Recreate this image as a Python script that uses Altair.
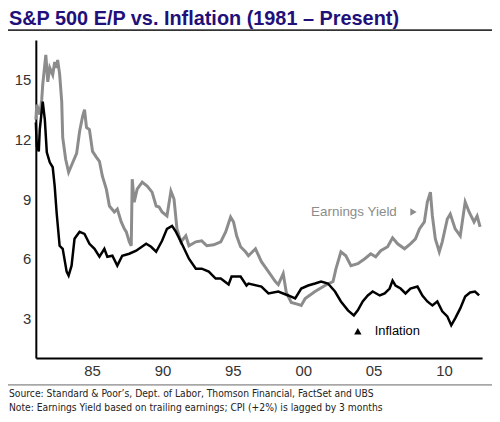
import altair as alt
import pandas as pd

# Earnings Yield (S&P 500 E/P, %)
ey_year = [1981.00, 1981.07, 1981.28, 1981.42, 1981.49, 1981.71, 1981.85, 1981.99, 1982.20, 1982.34,
           1982.48, 1982.55, 1982.69, 1982.84, 1982.91, 1983.12, 1983.33, 1983.54, 1983.90, 1984.11,
           1984.32, 1984.46, 1984.60, 1984.81, 1985.03, 1985.31, 1985.52, 1985.73, 1986.01, 1986.23,
           1986.58, 1986.79, 1987.07, 1987.29, 1987.43, 1987.64, 1987.78, 1987.85, 1987.99, 1988.20,
           1988.56, 1988.91, 1989.26, 1989.55, 1989.76, 1989.97, 1990.32, 1990.60, 1990.82, 1991.03,
           1991.31, 1991.66, 1991.88, 1992.37, 1992.79, 1993.15, 1993.64, 1994.14, 1994.49, 1994.84,
           1995.05, 1995.27, 1995.55, 1995.90, 1996.11, 1996.61, 1997.03, 1997.53, 1998.02, 1998.23,
           1998.58, 1998.80, 1999.15, 1999.64, 1999.86, 2000.14, 2000.84, 2001.55, 2002.12, 2002.33,
           2002.68, 2003.03, 2003.39, 2003.88, 2004.38, 2004.80, 2005.15, 2005.51, 2006.00, 2006.35,
           2006.71, 2007.20, 2007.62, 2007.98, 2008.26, 2008.61, 2008.82, 2009.04, 2009.18, 2009.39,
           2009.67, 2009.88, 2010.24, 2010.45, 2010.80, 2011.16, 2011.51, 2011.79, 2012.14, 2012.36,
           2012.57]
ey_value = [13.0, 13.75, 13.25, 14.0, 14.75, 16.25, 14.9, 15.6, 15.25, 15.9,
            15.6, 16.0, 15.3, 13.9, 12.1, 11.0, 10.35, 10.7, 11.3, 12.4,
            13.15, 13.5, 12.6, 12.5, 11.4, 11.1, 10.9, 10.15, 9.5, 8.65,
            8.35, 8.5, 7.85, 7.5, 7.35, 6.85, 6.65, 10.0, 8.85, 9.5,
            9.85, 9.65, 9.35, 8.65, 8.6, 8.35, 8.15, 9.4, 9.0, 7.5,
            6.85, 7.15, 6.65, 6.85, 6.9, 6.65, 6.7, 6.85, 7.35, 8.1,
            7.85, 7.15, 6.6, 6.35, 6.15, 6.5, 5.85, 5.35, 4.85, 4.7,
            5.25, 4.3, 3.8, 3.7, 3.65, 4.0, 4.35, 4.65, 4.85, 5.5,
            6.35, 6.15, 5.65, 5.75, 6.0, 6.25, 6.1, 6.4, 6.6, 7.05,
            6.75, 6.5, 6.75, 7.0, 7.5, 7.85, 8.85, 9.35, 8.15, 7.0,
            6.35, 6.85, 8.0, 8.25, 7.5, 7.15, 8.85, 8.35, 7.85, 8.15,
            7.6]

# Inflation (CPI +2%, lagged 3 months)
inf_year = [1981.00, 1981.07, 1981.21, 1981.28, 1981.49, 1981.64, 1981.78, 1981.99, 1982.20, 1982.34,
            1982.48, 1982.69, 1982.91, 1983.19, 1983.33, 1983.54, 1983.75, 1984.11, 1984.46, 1984.81,
            1985.17, 1985.52, 1985.87, 1986.08, 1986.44, 1986.79, 1987.14, 1987.64, 1988.13, 1988.84,
            1989.19, 1989.55, 1989.97, 1990.32, 1990.68, 1990.96, 1991.31, 1991.88, 1992.37, 1992.79,
            1993.29, 1993.78, 1994.14, 1994.70, 1994.91, 1995.55, 1995.97, 1996.11, 1997.03, 1997.53,
            1998.23, 1998.94, 1999.43, 1999.86, 2000.35, 2000.84, 2001.27, 2001.76, 2002.26, 2002.68,
            2003.18, 2003.60, 2003.88, 2004.23, 2004.59, 2004.94, 2005.44, 2005.79, 2006.14, 2006.35,
            2006.56, 2006.92, 2007.27, 2007.62, 2008.12, 2008.47, 2008.82, 2009.18, 2009.53, 2009.88,
            2010.24, 2010.52, 2010.80, 2011.16, 2011.51, 2011.86, 2012.21, 2012.50]
inf_value = [12.85, 11.65, 11.4, 12.5, 13.9, 13.0, 11.35, 10.85, 10.6, 9.65,
             8.3, 6.65, 6.5, 5.35, 5.15, 5.65, 7.0, 7.35, 7.25, 6.75,
             6.5, 6.1, 6.5, 6.1, 6.15, 5.65, 6.15, 6.25, 6.4, 6.75,
             6.6, 6.35, 6.9, 7.5, 7.65, 7.35, 6.85, 6.0, 5.5, 5.5,
             5.35, 5.0, 5.0, 4.7, 5.1, 5.1, 4.65, 4.75, 4.6, 4.25,
             4.35, 4.15, 4.0, 4.5, 4.65, 4.75, 4.85, 4.75, 4.35, 3.85,
             3.4, 3.15, 3.4, 3.85, 4.15, 4.35, 4.15, 4.25, 4.5, 4.9,
             4.65, 4.5, 4.25, 4.5, 4.6, 4.15, 3.85, 3.65, 3.85, 3.35,
             3.1, 2.65, 3.0, 3.5, 4.1, 4.3, 4.35, 4.15]

x_ticks = [1985, 1990, 1995, 2000, 2005, 2010]
y_ticks = [3, 6, 9, 12, 15]

title_text = "S&P 500 E/P vs. Inflation (1981 \u2013 Present)"
source_text = "Source: Standard & Poor\u2019s, Dept. of Labor, Thomson Financial, FactSet and UBS"
note_text = "Note: Earnings Yield based on trailing earnings; CPI (+2%) is lagged by 3 months"

FONT = "Liberation Sans, Arial, Helvetica, sans-serif"
NARROW = "Liberation Sans Narrow, Arial Narrow, DejaVu Sans Condensed, Liberation Sans, sans-serif"

ey_df = pd.DataFrame({"year": ey_year, "value": ey_value})
inf_df = pd.DataFrame({"year": inf_year, "value": inf_value})
one = pd.DataFrame({"k": [0]})

xscale = alt.Scale(domain=[1981, 2012.71], nice=False, zero=False)
yscale = alt.Scale(domain=[1, 17], nice=False, zero=False)

xaxis = alt.Axis(values=x_ticks, labelExpr="substring(toString(datum.value), 2)", title=None,
                 grid=False, ticks=False, domainColor="black", domainWidth=2,
                 labelFont=FONT, labelFontSize=15, labelColor="#333333", labelPadding=6)
yaxis = alt.Axis(values=y_ticks, title=None, grid=False, ticks=False, domainColor="black",
                 domainWidth=2, labelFont=FONT, labelFontSize=15, labelColor="#333333",
                 labelPadding=5)

ey_line = alt.Chart(ey_df).mark_line(color="#8c8c8c", strokeWidth=3).encode(
    x=alt.X("year:Q", scale=xscale, axis=xaxis),
    y=alt.Y("value:Q", scale=yscale, axis=yaxis),
)
inf_line = alt.Chart(inf_df).mark_line(color="#000000", strokeWidth=2.5).encode(
    x=alt.X("year:Q", scale=xscale),
    y=alt.Y("value:Q", scale=yscale),
)

def txt(text, x, y, size, color, font=FONT, weight="normal", baseline="alphabetic"):
    return alt.Chart(one).mark_text(text=text, align="left", baseline=baseline, fontSize=size,
                                    font=font, fontWeight=weight, color=color).encode(
        x=alt.value(x), y=alt.value(y))

title = txt(title_text, -27, -15, 20, "#22107a", weight="bold")
title_rule = alt.Chart(one).mark_rule(color="#333333", strokeWidth=2).encode(
    x=alt.value(-28), x2=alt.value(459), y=alt.value(-10))
foot_rule = alt.Chart(one).mark_rule(color="#666666", strokeWidth=1).encode(
    x=alt.value(-28), x2=alt.value(459), y=alt.value(347))
source = txt(source_text, -27, 359, 10.3, "#222222", font=NARROW)
note = txt(note_text, -27, 373, 10.3, "#222222", font=NARROW)

ey_label = txt("Earnings Yield", 277, 173, 13.5, "#8c8c8c", baseline="middle")
ey_tri = alt.Chart(one).mark_point(shape="triangle-right", filled=True, size=55,
                                   color="#8c8c8c", opacity=1).encode(
    x=alt.value(380), y=alt.value(173))
inf_tri = alt.Chart(one).mark_point(shape="triangle-up", filled=True, size=55,
                                    color="#000000", opacity=1).encode(
    x=alt.value(324), y=alt.value(293))
inf_label = txt("Inflation", 341, 293, 13, "#000000", baseline="middle")

chart = alt.layer(
    ey_line, inf_line, title, title_rule, foot_rule, source, note,
    ey_label, ey_tri, inf_tri, inf_label
).properties(
    width=449, height=320,
    padding={"left": 28, "top": 31, "right": 10, "bottom": 55},
    autosize=alt.AutoSizeParams(type="none"),
    background="white",
).configure_view(strokeWidth=0)

chart.save("out.html", embed_options={"renderer": "svg", "actions": False})
